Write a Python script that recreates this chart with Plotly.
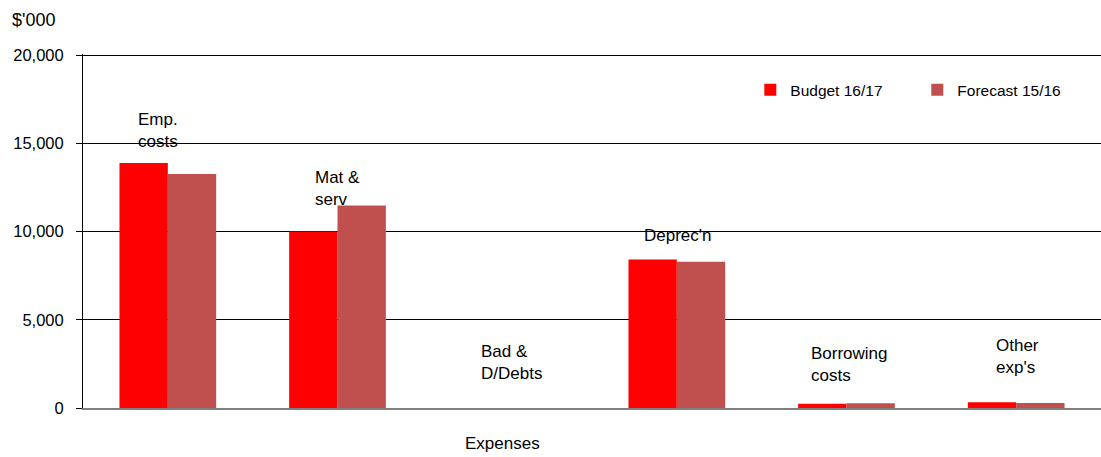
import plotly.graph_objects as go

categories = ["Emp. costs", "Mat & serv", "Bad & D/Debts", "Deprec'n", "Borrowing costs", "Other exp's"]
label_text = ["Emp.<br>costs", "Mat &<br>serv", "Bad &<br>D/Debts", "Deprec'n", "Borrowing<br>costs", "Other<br>exp's"]
budget_1617 = [13880, 10000, 0, 8420, 245, 320]
forecast_1516 = [13260, 11480, 0, 8290, 265, 280]
y_ticks = [0, 5000, 10000, 15000, 20000]
y_tick_text = ["0", "5,000", "10,000", "15,000", "20,000"]

# label placement (style, not data)
label_y = [15700, 12440, 2600, 9760, 2480, 2930]
label_dx = [-32, -25, -28, -35, -38, -22]

FONT = "Liberation Sans, Arial, sans-serif"

fig = go.Figure()
fig.add_trace(go.Bar(x=categories, y=budget_1617, name="Budget 16/17",
                     marker=dict(color="#FF0000", line=dict(width=0))))
fig.add_trace(go.Bar(x=categories, y=forecast_1516, name="Forecast 15/16",
                     marker=dict(color="#C0504D", line=dict(width=0))))

for c, t, yv, dx in zip(categories, label_text, label_y, label_dx):
    fig.add_annotation(x=c, y=yv, text=t, showarrow=False, xanchor="left", yanchor="middle",
                       xshift=dx, align="left", font=dict(family=FONT, size=17, color="#000000"))

fig.add_annotation(text="$'000", xref="paper", yref="paper", x=-0.0717, y=1.0, yshift=34,
                   xanchor="left", yanchor="middle", showarrow=False,
                   font=dict(family=FONT, size=18, color="#000000"))
fig.add_annotation(text="Expenses", xref="paper", yref="paper", x=0.412, y=0, yshift=-35,
                   xanchor="center", yanchor="middle", showarrow=False,
                   font=dict(family=FONT, size=17, color="#000000"))

fig.update_layout(
    width=1101, height=457,
    margin=dict(l=83, r=0, t=54, b=49, autoexpand=False),
    plot_bgcolor="white", paper_bgcolor="white",
    barmode="group", bargap=0.43, bargroupgap=0,
    font=dict(family=FONT, size=16, color="#000000"),
    showlegend=True,
    legend=dict(orientation="h", x=0.6555, y=0.898, xanchor="left", yanchor="middle",
                bgcolor="rgba(0,0,0,0)", font=dict(family=FONT, size=15.5),
                itemwidth=30, traceorder="normal", entrywidth=122),
    xaxis=dict(showticklabels=False, showgrid=False, zeroline=False,
               showline=True, linecolor="#808080", linewidth=2, ticks=""),
    yaxis=dict(range=[0, 20060], tickvals=y_ticks, ticktext=y_tick_text,
               showgrid=True, gridcolor="#000000", gridwidth=1,
               zeroline=False, showline=True, linecolor="#000000", linewidth=1,
               ticks="outside", ticklen=6, tickcolor="#000000", tickwidth=1,
               ticklabelstandoff=9,
               tickfont=dict(family=FONT, size=16.5)),
)

fig.write_html("out.html")
